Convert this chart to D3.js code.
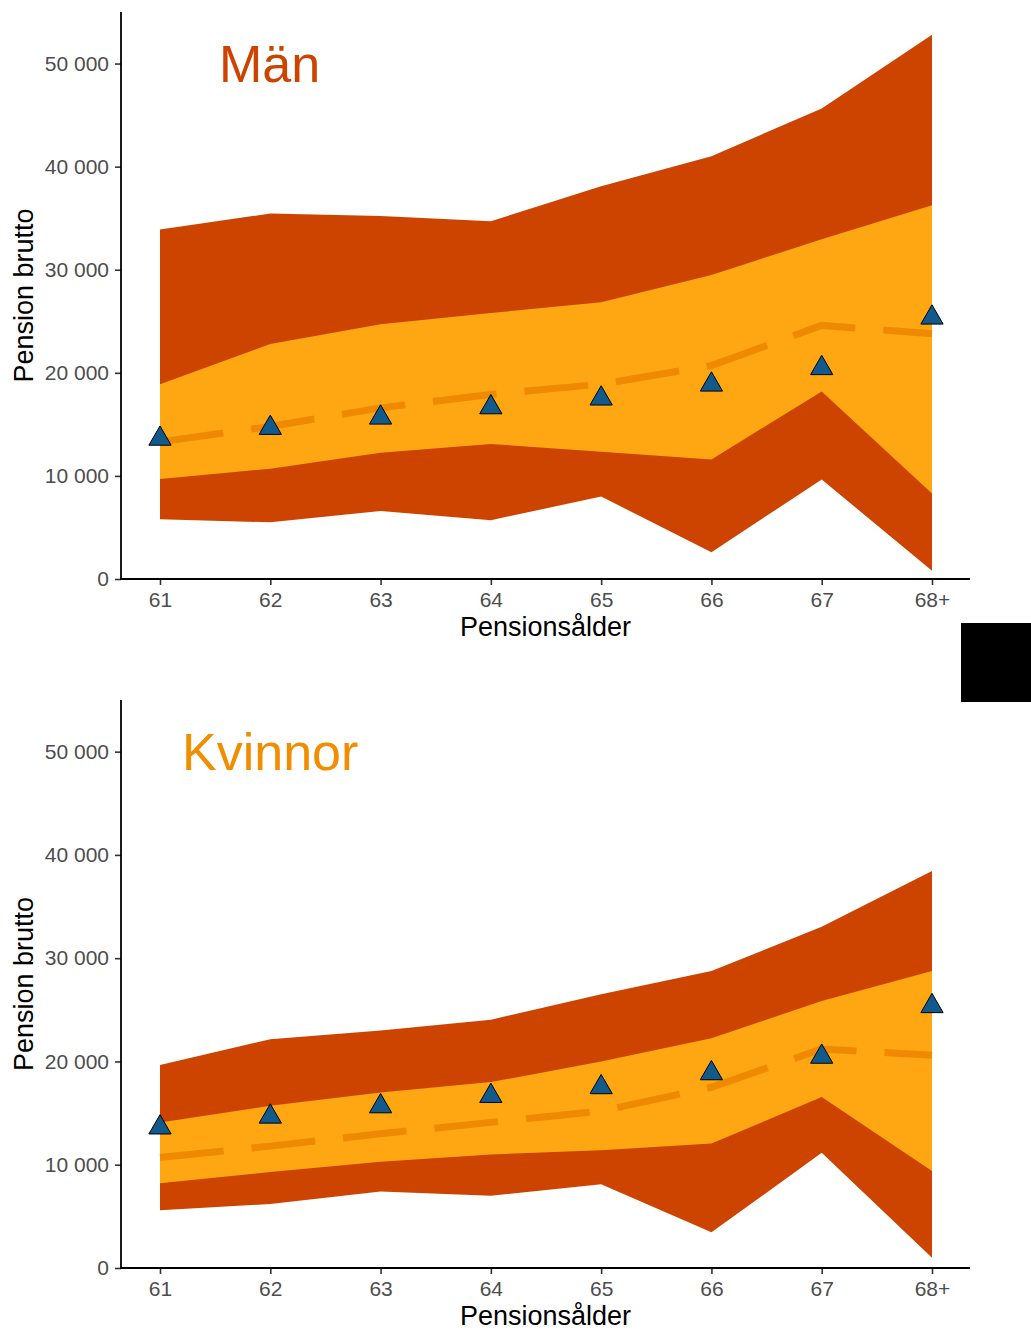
<!DOCTYPE html>
<html>
<head>
<meta charset="utf-8">
<script src="https://cdn.jsdelivr.net/npm/d3@7"></script>
<style>
  html, body { margin: 0; padding: 0; background: #fff; }
  svg { display: block; font-family: "Liberation Sans", Arial, sans-serif; }
</style>
</head>
<body>
<svg id="chart" width="1031" height="1331"></svg>
<script>
// ---- Data ----
const ages = ["61", "62", "63", "64", "65", "66", "67", "68+"];
const yTicks = [0, 10000, 20000, 30000, 40000, 50000];

// Observed points (triangles), same in both panels
const pointValues = [13600, 14650, 15650, 16650, 17500, 18850, 20450, 25350];

// Män
const menOuterLow  = [5800, 5500, 6600, 5700, 8000, 2600, 9650, 800];
const menInnerLow  = [9700, 10700, 12250, 13100, 12350, 11600, 18200, 8300];
const menInnerHigh = [18900, 22800, 24700, 25800, 26850, 29500, 32950, 36250];
const menOuterHigh = [33900, 35450, 35200, 34700, 38100, 41000, 45650, 52800];
const menMedian    = [13300, 14800, 16600, 17900, 18900, 20700, 24600, 23800];

// Kvinnor
const womenOuterLow  = [5600, 6200, 7400, 7000, 8100, 3450, 11150, 1000];
const womenInnerLow  = [8200, 9300, 10300, 11000, 11400, 12050, 16550, 9400];
const womenInnerHigh = [14100, 15700, 17000, 18000, 20000, 22250, 25850, 28750];
const womenOuterHigh = [19650, 22150, 23000, 24050, 26500, 28750, 33050, 38450];
const womenMedian    = [10700, 11800, 13000, 14100, 15200, 17500, 21200, 20600];

const panels = [
  { title: "Män", titleColor: "#CC4400", titleX: 219, titleSize: 52,
    outerLow: menOuterLow, innerLow: menInnerLow, innerHigh: menInnerHigh,
    outerHigh: menOuterHigh, median: menMedian, top: 12, bottom: 579 },
  { title: "Kvinnor", titleColor: "#F28C00", titleX: 182, titleSize: 52,
    outerLow: womenOuterLow, innerLow: womenInnerLow, innerHigh: womenInnerHigh,
    outerHigh: womenOuterHigh, median: womenMedian, top: 700, bottom: 1268 }
];

// ---- Styles ----
const outerColor = "#CC4400";
const innerColor = "#FEA712";
const dashColor = "#EF8A00";
const pointFill = "#135A8C";
const axisLeftX = 121, axisRightX = 970;

const svg = d3.select("#chart");
const locale = d3.formatLocale({ decimal: ",", thousands: " ", grouping: [3], currency: ["", " kr"] });
const fmt = locale.format(",d");

const x = d3.scalePoint().domain(ages).range([160, 932]);

panels.forEach(p => {
  const y = d3.scaleLinear().domain([0, 55000]).range([p.bottom, p.top]);
  const g = svg.append("g");
  const idx = d3.range(ages.length);

  const outerArea = d3.area()
    .x(i => x(ages[i]))
    .y0(i => y(p.outerLow[i]))
    .y1(i => y(p.outerHigh[i]));
  const innerArea = d3.area()
    .x(i => x(ages[i]))
    .y0(i => y(p.innerLow[i]))
    .y1(i => y(p.innerHigh[i]));

  g.append("path").datum(idx).attr("d", outerArea).attr("fill", outerColor);
  g.append("path").datum(idx).attr("d", innerArea).attr("fill", innerColor);

  const line = d3.line().x(i => x(ages[i])).y(i => y(p.median[i]));
  g.append("path").datum(idx).attr("d", line)
    .attr("fill", "none").attr("stroke", dashColor)
    .attr("stroke-width", 7).attr("stroke-dasharray", "64 28");

  const tri = d3.symbol().type(d3.symbolTriangle).size(215);
  g.selectAll(".pt").data(idx).enter().append("path")
    .attr("d", tri)
    .attr("transform", i => `translate(${x(ages[i])},${y(pointValues[i])})`)
    .attr("fill", pointFill).attr("stroke", "#000").attr("stroke-width", 1);

  // Y axis
  const yAxis = g.append("g").attr("transform", `translate(${axisLeftX},0)`)
    .call(d3.axisLeft(y).tickValues(yTicks).tickFormat(fmt).tickSize(6).tickPadding(6));
  yAxis.select(".domain").remove();
  yAxis.append("line").attr("x1", 0).attr("x2", 0).attr("y1", p.top).attr("y2", p.bottom + 1)
    .attr("stroke", "#000").attr("stroke-width", 1.8);
  yAxis.selectAll(".tick line").attr("stroke", "#333").attr("stroke-width", 1.6);
  yAxis.selectAll(".tick text").attr("fill", "#4d4d4d").style("font-size", "21px");

  // X axis
  const xAxis = g.append("g").attr("transform", `translate(0,${p.bottom})`)
    .call(d3.axisBottom(x).tickSize(6).tickPadding(7));
  xAxis.select(".domain").remove();
  xAxis.append("line").attr("x1", axisLeftX - 1).attr("x2", axisRightX).attr("y1", 0).attr("y2", 0)
    .attr("stroke", "#000").attr("stroke-width", 1.8);
  xAxis.selectAll(".tick line").attr("stroke", "#333").attr("stroke-width", 1.6);
  xAxis.selectAll(".tick text").attr("fill", "#4d4d4d").style("font-size", "21px");

  // Axis titles
  g.append("text").attr("x", (axisLeftX + axisRightX) / 2).attr("y", p.bottom + 57)
    .attr("text-anchor", "middle").style("font-size", "27px").attr("fill", "#000")
    .text("Pensionsålder");
  g.append("text")
    .attr("transform", `translate(33,${(p.top + p.bottom) / 2}) rotate(-90)`)
    .attr("text-anchor", "middle").style("font-size", "27px").attr("fill", "#000")
    .text("Pension brutto");

  // Panel title
  g.append("text").attr("x", p.titleX).attr("y", p.top + 70)
    .style("font-size", p.titleSize + "px").attr("fill", p.titleColor)
    .text(p.title);
});

// Black block at right edge
svg.append("rect").attr("x", 961).attr("y", 623).attr("width", 70).attr("height", 79).attr("fill", "#000");
</script>
</body>
</html>
